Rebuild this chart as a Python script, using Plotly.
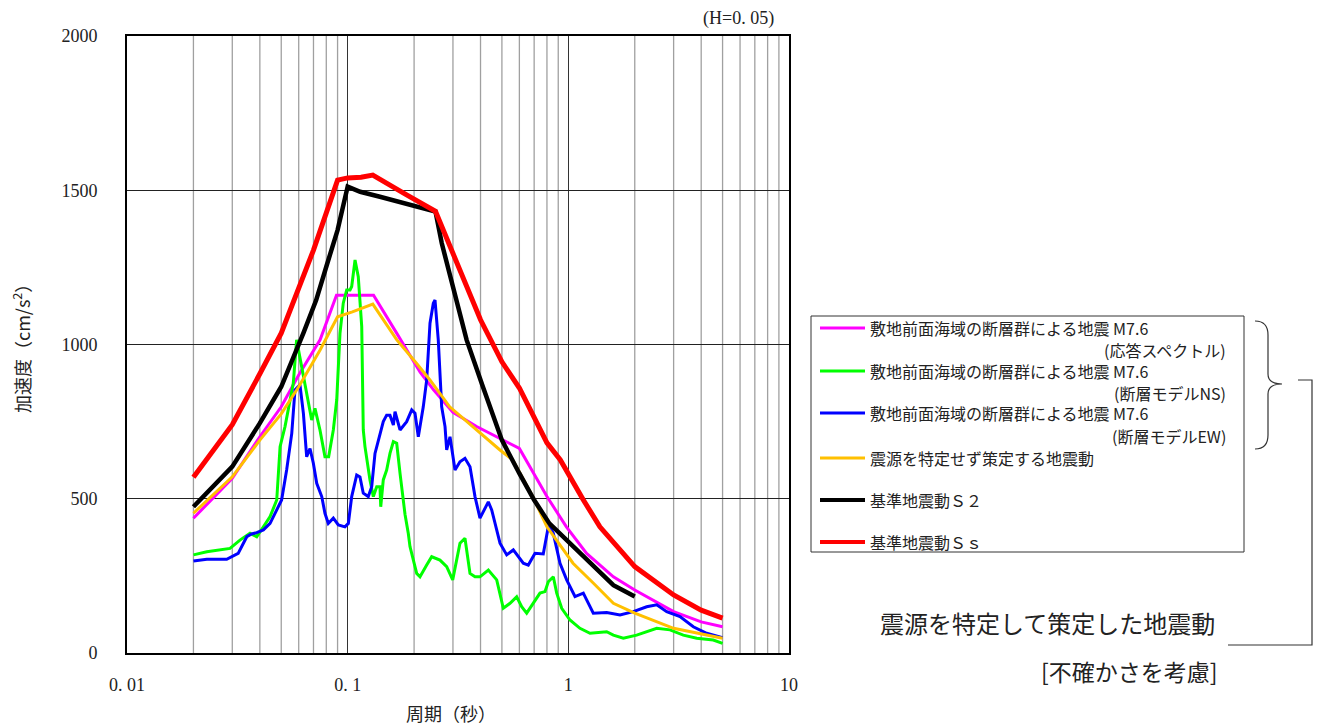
import plotly.graph_objects as go

# ---------------- data (period [s], acceleration [cm/s2]) ----------------
T_mag = [0.02, 0.03, 0.04, 0.05, 0.06, 0.075, 0.089, 0.131, 0.167, 0.213, 0.245, 0.3, 0.384,
         0.49, 0.6, 0.8, 0.98, 1.21, 1.6, 2.0, 3.0, 4.0, 5.0]
V_mag = [437, 566, 701, 798, 901, 1015, 1160, 1160, 1036, 910, 853, 780, 734,
         696, 663, 507, 409, 323, 247, 204, 134, 101, 85]

T_ns = [0.02, 0.023, 0.0293, 0.0325, 0.0361, 0.0387, 0.0415, 0.0445, 0.0477, 0.0494, 0.052,
        0.0567, 0.0587, 0.0619, 0.0663, 0.0687, 0.0711, 0.0749, 0.0789, 0.082, 0.0861, 0.0892,
        0.0923, 0.0955, 0.099, 0.1025, 0.1043, 0.108, 0.1117, 0.1158, 0.1177, 0.1198, 0.1262,
        0.1307, 0.1354, 0.1401, 0.1412, 0.145, 0.1502, 0.1555, 0.1611, 0.1668, 0.1727, 0.1819,
        0.1882, 0.1916, 0.2055, 0.2127, 0.2281, 0.2403, 0.262, 0.281, 0.2992, 0.3228, 0.3401,
        0.3584, 0.3776, 0.3978, 0.4339, 0.4736, 0.5074, 0.5441, 0.5834, 0.6146, 0.6476, 0.6938,
        0.7438, 0.7837, 0.8113, 0.8549, 0.8858, 0.9333, 1.017, 1.129, 1.2535, 1.4923, 1.5993,
        1.7749, 2.04, 2.515, 2.889, 3.319, 3.817, 4.539, 5.0]
V_ns = [318, 328, 339, 366, 388, 377, 409, 442, 496, 669, 734,
        874, 1015, 928, 820, 755, 793, 723, 636, 636, 723, 820,
        1036, 1134, 1177, 1177, 1188, 1274, 1220, 1058, 723, 669, 561,
        507, 539, 539, 474, 561, 593, 647, 685, 680, 582, 450,
        388, 345, 258, 247, 285, 312, 301, 280, 237, 356, 372,
        258, 247, 247, 269, 237, 145, 161, 182, 150, 129, 161,
        194, 199, 231, 247, 194, 145, 107, 80, 64, 69, 58,
        48, 58, 80, 75, 58, 48, 42, 31]

T_ew = [0.02, 0.023, 0.0283, 0.0319, 0.0349, 0.0367, 0.0387, 0.0415, 0.0445, 0.0477, 0.0502,
        0.0529, 0.0558, 0.0577, 0.0608, 0.063, 0.0652, 0.0675, 0.0699, 0.0724, 0.0763, 0.0789,
        0.0817, 0.0861, 0.0907, 0.0972, 0.1007, 0.1043, 0.1099, 0.1137, 0.1177, 0.124, 0.1285,
        0.133, 0.1401, 0.145, 0.1502, 0.1555, 0.1611, 0.1639, 0.1727, 0.1851, 0.1951, 0.2019,
        0.209, 0.2201, 0.2281, 0.2361, 0.2444, 0.2488, 0.2574, 0.2667, 0.2762, 0.281, 0.2909,
        0.3065, 0.3228, 0.3401, 0.3584, 0.3776, 0.3978, 0.4339, 0.4495, 0.4902, 0.5257, 0.5632,
        0.625, 0.6585, 0.7063, 0.7699, 0.8113, 0.8258, 0.8549, 0.9168, 0.9829, 1.072, 1.169,
        1.2975, 1.4923, 1.7146, 1.9701, 2.265, 2.515, 2.791, 3.206, 3.684, 4.236, 5.0]
V_ew = [298, 304, 304, 323, 377, 386, 390, 399, 420, 464, 496,
        593, 712, 853, 869, 777, 636, 663, 615, 550, 507, 453,
        420, 437, 415, 409, 420, 507, 577, 571, 518, 507, 539,
        647, 712, 750, 771, 771, 739, 782, 723, 750, 788, 777,
        701, 798, 885, 1069, 1134, 1144, 1015, 798, 734, 658, 701,
        593, 620, 631, 604, 507, 437, 490, 464, 356, 318, 334,
        291, 285, 323, 321, 409, 409, 388, 291, 237, 183, 194,
        129, 131, 123, 134, 150, 156, 134, 118, 85, 64, 50]

T_unsp = [0.02, 0.03, 0.04, 0.05, 0.06, 0.075, 0.09, 0.105, 0.13, 0.167, 0.205, 0.236, 0.29,
          0.4, 0.49, 0.56, 0.69, 0.8, 1.05, 1.3, 1.6, 2.0, 3.0, 5.0]
V_unsp = [453, 571, 690, 775, 863, 982, 1090, 1106, 1131, 1015, 939, 885, 798,
          712, 658, 626, 507, 409, 291, 226, 161, 129, 80, 48]

T_s2 = [0.02, 0.03, 0.04, 0.05, 0.063, 0.072, 0.08, 0.09, 0.1, 0.114, 0.14, 0.18, 0.25, 0.267,
        0.3, 0.346, 0.41, 0.5, 0.6, 0.7, 0.82, 1.02, 1.3, 1.6, 2.0]
V_s2 = [474, 604, 745, 863, 1037, 1144, 1252, 1371, 1512, 1495, 1479, 1458, 1431, 1328,
        1187, 1015, 863, 690, 582, 496, 420, 356, 280, 220, 183]

T_ss = [0.02, 0.03, 0.04, 0.05, 0.07, 0.09, 0.1, 0.115, 0.13, 0.15, 0.185, 0.25, 0.3, 0.35,
        0.4, 0.5, 0.6, 0.8, 0.92, 1.17, 1.39, 2.0, 3.0, 4.0, 5.0]
V_ss = [570, 740, 905, 1037, 1306, 1533, 1540, 1542, 1549, 1522, 1485, 1432, 1297, 1177,
        1080, 944, 859, 681, 626, 496, 409, 280, 188, 139, 113]

x_tickvals = [0.01, 0.1, 1, 10]
x_ticktext = ["0. 01", "0. 1", "1", "10"]
y_tickvals = [0, 500, 1000, 1500, 2000]
minor_mult = [2, 3, 4, 5, 6, 7, 8, 9]
decades = [0.01, 0.1, 1]

series = [
    dict(x=T_mag, y=V_mag, color="#FF00FF", width=3,
         name="敷地前面海域の断層群による地震 M7.6", sub="(応答スペクトル)"),
    dict(x=T_ns, y=V_ns, color="#00FF00", width=3,
         name="敷地前面海域の断層群による地震 M7.6", sub="(断層モデルNS)"),
    dict(x=T_ew, y=V_ew, color="#0000FF", width=3,
         name="敷地前面海域の断層群による地震 M7.6", sub="(断層モデルEW)"),
    dict(x=T_unsp, y=V_unsp, color="#FFC000", width=3,
         name="震源を特定せず策定する地震動", sub=None),
    dict(x=T_s2, y=V_s2, color="#000000", width=4.5,
         name="基準地震動Ｓ２", sub=None),
    dict(x=T_ss, y=V_ss, color="#FF0000", width=5,
         name="基準地震動Ｓｓ", sub=None),
]

# ---------------- figure ----------------
W, H = 1317, 726
L, R, TOP, B = 127, 789, 36, 653   # plot area pixel box


def px(xp):
    return (xp - L) / (R - L)


def py(yp):
    return (B - yp) / (B - TOP)


JP = "Noto Sans CJK JP"
SERIF = "Liberation Serif"
TXT = "#222222"

fig = go.Figure()
for s in series:
    fig.add_trace(go.Scatter(x=s["x"], y=s["y"], mode="lines",
                             line=dict(color=s["color"], width=s["width"]),
                             showlegend=False, hoverinfo="skip"))

shapes = []
# minor vertical gridlines
for d in decades:
    for m in minor_mult:
        shapes.append(dict(type="line", xref="x", yref="paper", x0=d * m, x1=d * m, y0=0, y1=1,
                           line=dict(color="#A0A0A0", width=1.3), layer="below"))

# legend box
shapes.append(dict(type="rect", xref="paper", yref="paper", x0=px(811), x1=px(1244),
                   y0=py(552), y1=py(316), line=dict(color="#333333", width=1),
                   fillcolor="white", layer="above"))

annotations = []
entry_y = [328, 371, 413, 458, 500, 542]
sub_y = [350, 393, 436]
LEG_SIZE = 16
for i, s in enumerate(series):
    yy = entry_y[i]
    shapes.append(dict(type="line", xref="paper", yref="paper", x0=px(820), x1=px(865),
                       y0=py(yy), y1=py(yy),
                       line=dict(color=s["color"], width=4 if s["width"] > 4 else 3)))
    annotations.append(dict(xref="paper", yref="paper", x=px(869), y=py(yy), text=s["name"],
                            showarrow=False, xanchor="left", yanchor="middle", borderpad=0,
                            font=dict(family=JP, size=LEG_SIZE, color=TXT)))
    if s["sub"]:
        annotations.append(dict(xref="paper", yref="paper", x=px(1227), y=py(sub_y[i]),
                                text=s["sub"], showarrow=False, xanchor="right",
                                yanchor="middle", borderpad=0,
                                font=dict(family=JP, size=LEG_SIZE, color=TXT)))

# curly brace
bx0, bx1, bx2 = 1255, 1268, 1282
by0, bym, by1 = 321, 384, 449
brace = (f"M {px(bx0)},{py(by0)} Q {px(bx1)},{py(by0)} {px(bx1)},{py(by0 + 14)} "
         f"L {px(bx1)},{py(bym - 10)} Q {px(bx1)},{py(bym)} {px(bx2)},{py(bym)} "
         f"Q {px(bx1)},{py(bym)} {px(bx1)},{py(bym + 10)} "
         f"L {px(bx1)},{py(by1 - 14)} Q {px(bx1)},{py(by1)} {px(bx0)},{py(by1)}")
shapes.append(dict(type="path", xref="paper", yref="paper", path=brace,
                   line=dict(color="#333333", width=1.2)))
# square bracket
bracket = (f"M {px(1298)},{py(380)} L {px(1312)},{py(380)} L {px(1312)},{py(645)} "
           f"L {px(1228)},{py(645)}")
shapes.append(dict(type="path", xref="paper", yref="paper", path=bracket,
                   line=dict(color="#333333", width=1.2)))

annotations += [
    dict(xref="paper", yref="paper", x=px(1047), y=py(622), text="震源を特定して策定した地震動",
         showarrow=False, xanchor="center", yanchor="middle",
         font=dict(family=JP, size=24, color=TXT)),
    dict(xref="paper", yref="paper", x=px(1129), y=py(671), text="[不確かさを考慮]",
         showarrow=False, xanchor="center", yanchor="middle",
         font=dict(family=JP, size=23, color=TXT)),
    dict(xref="paper", yref="paper", x=px(776), y=py(19), text="(H=0. 05)",
         showarrow=False, xanchor="right", yanchor="middle",
         font=dict(family=SERIF, size=18, color=TXT)),
    dict(xref="paper", yref="paper", x=px(451), y=py(713), text="周期（秒）",
         showarrow=False, xanchor="center", yanchor="middle",
         font=dict(family=JP, size=18, color=TXT)),
    dict(xref="paper", yref="paper", x=px(21), y=py(344), text="加速度（cm/s<sup>2</sup>）",
         showarrow=False, xanchor="center", yanchor="middle", textangle=-90,
         font=dict(family=JP, size=18, color=TXT)),
]

fig.update_layout(
    width=W, height=H,
    margin=dict(l=L, r=W - R, t=TOP, b=H - B, pad=0),
    paper_bgcolor="white", plot_bgcolor="white",
    shapes=shapes, annotations=annotations,
    showlegend=False,
)
fig.update_xaxes(type="log", range=[-2, 1], tickvals=x_tickvals, ticktext=x_ticktext,
                 showgrid=True, gridcolor="#333333", gridwidth=1,
                 showline=True, linecolor="black", linewidth=2, mirror=True,
                 ticks="", ticklabelstandoff=14, zeroline=False,
                 tickfont=dict(family=SERIF, size=18, color=TXT))
fig.update_yaxes(range=[0, 2000], tickvals=y_tickvals,
                 showgrid=True, gridcolor="#222222", gridwidth=1,
                 showline=True, linecolor="black", linewidth=2, mirror=True,
                 ticks="", ticklabelstandoff=24, zeroline=False,
                 tickfont=dict(family=SERIF, size=18, color=TXT))

fig.write_html("out.html", config={"displayModeBar": False},
               post_script="document.body.style.margin='0';document.body.style.padding='0';")
